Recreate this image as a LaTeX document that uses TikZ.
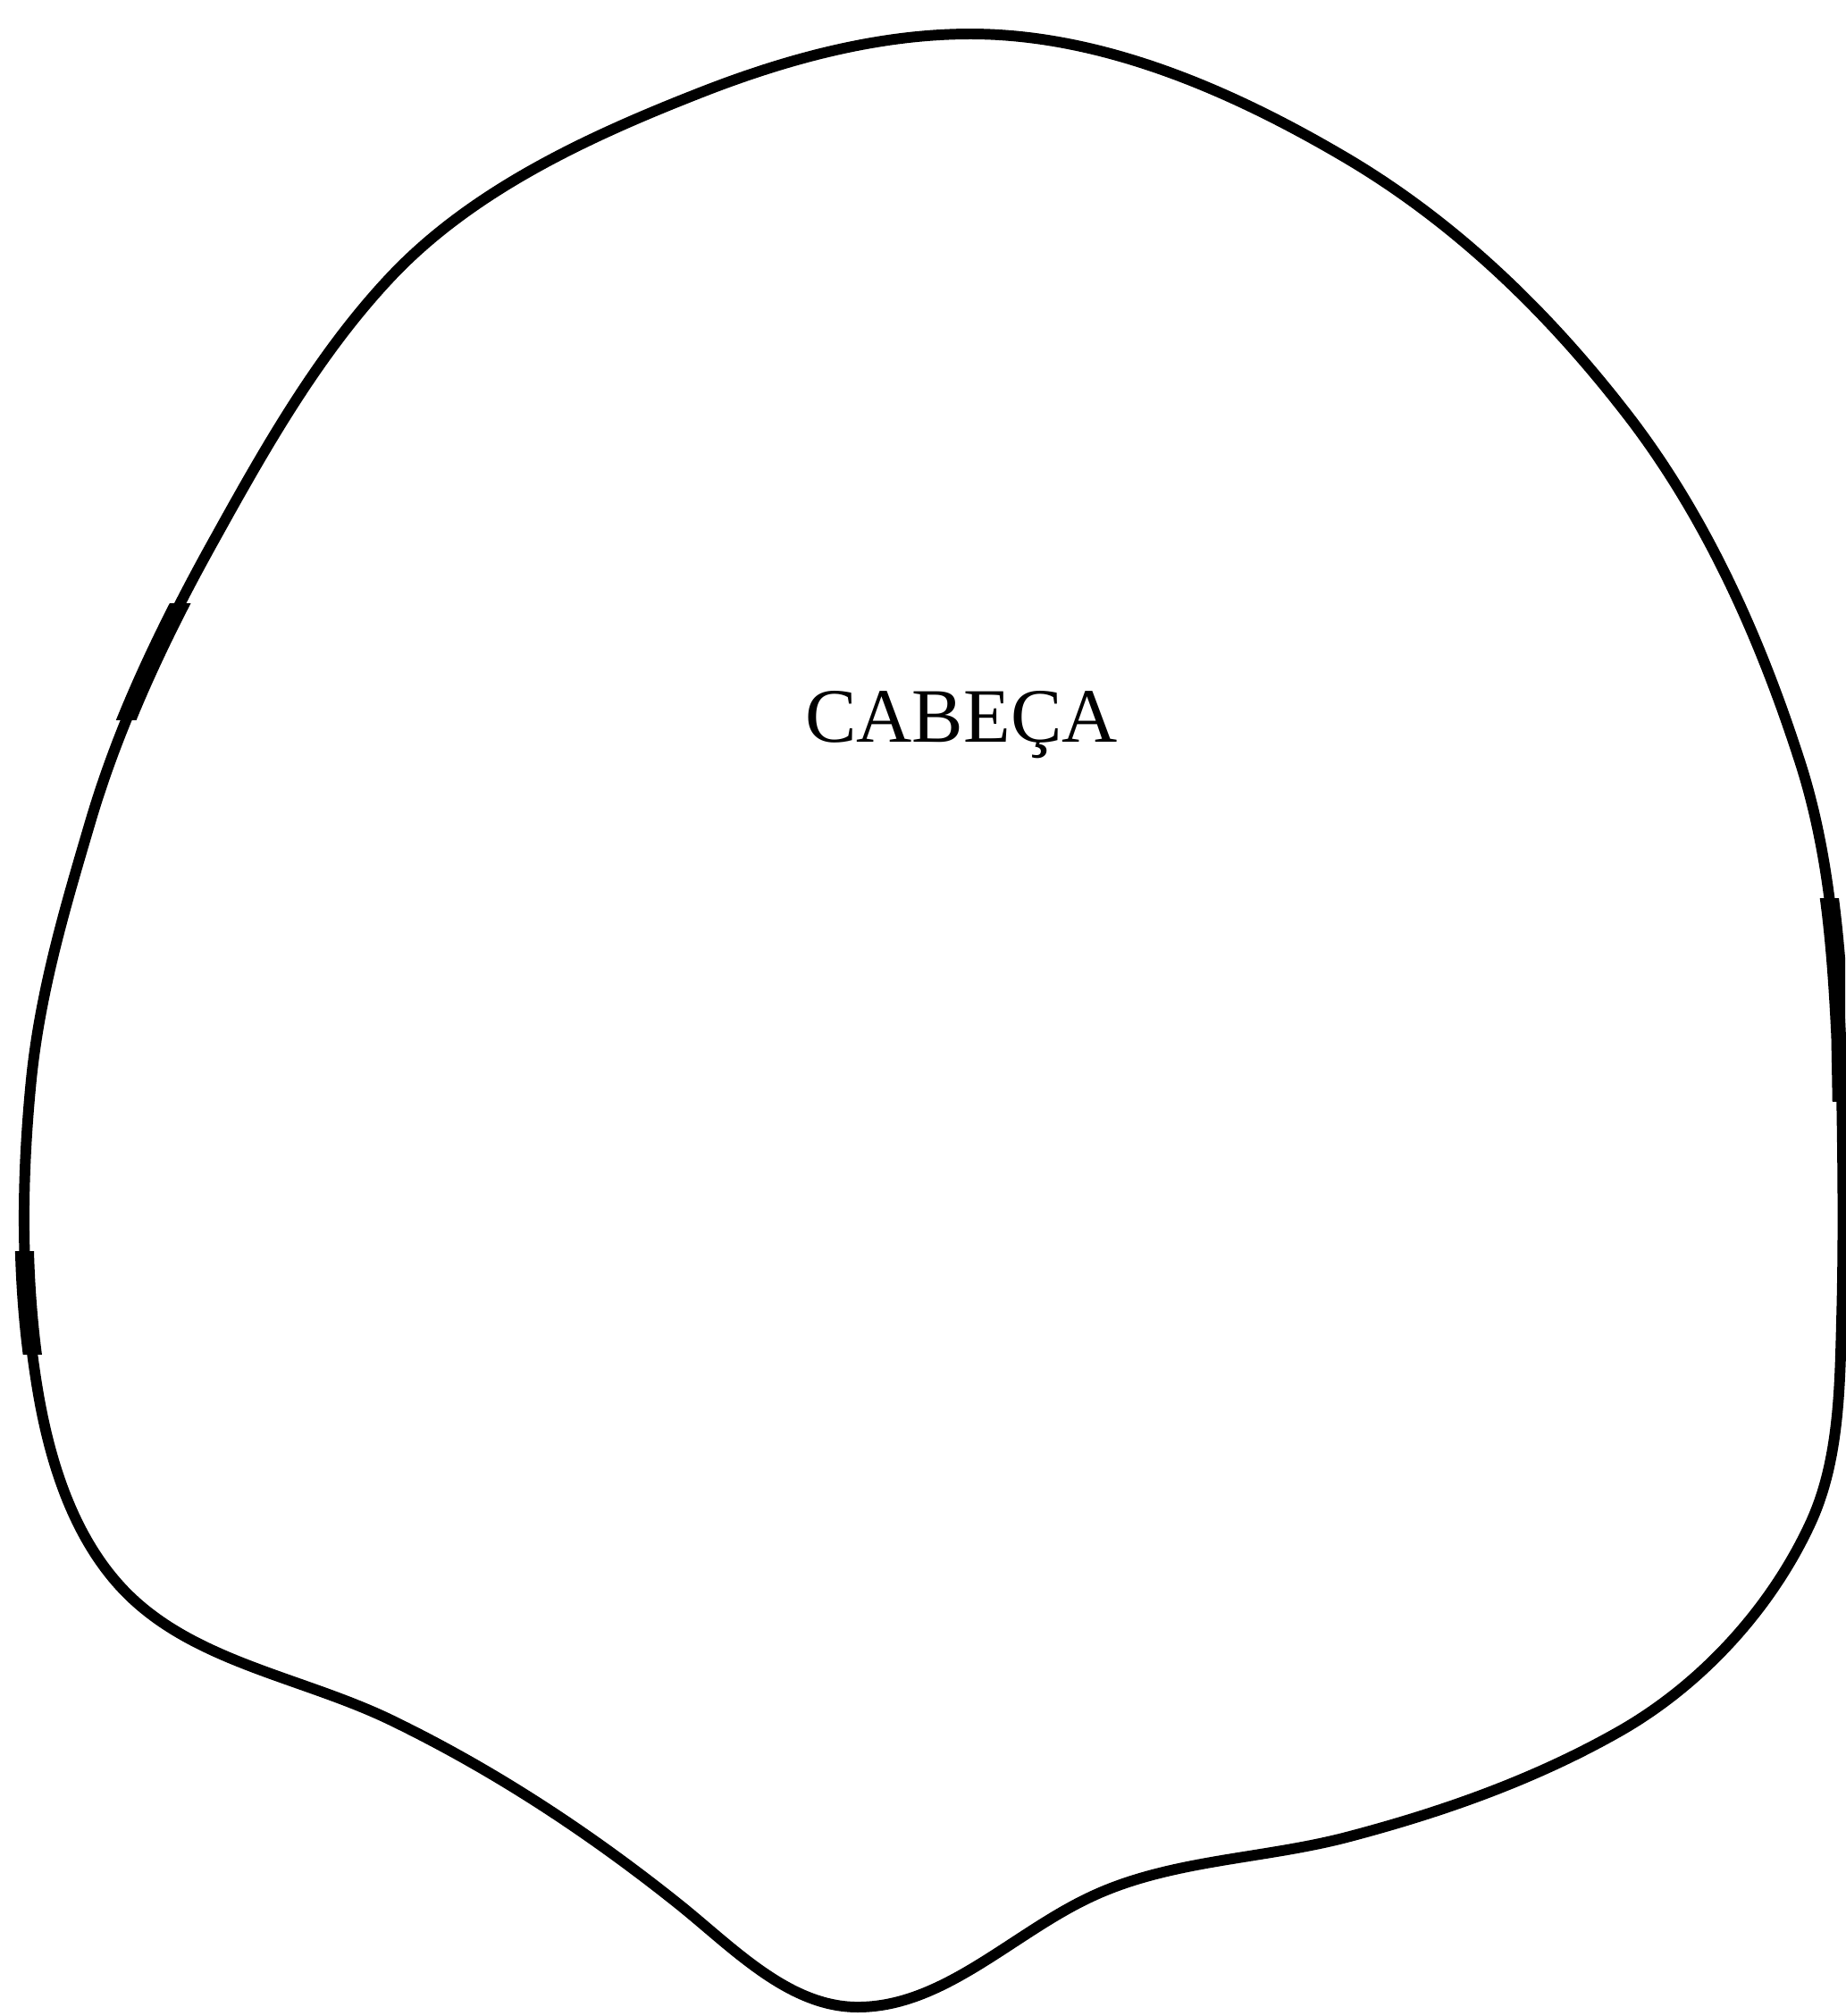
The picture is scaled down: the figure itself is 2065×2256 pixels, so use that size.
\documentclass[tikz,border=0pt]{standalone}
\usepackage{fontspec}
\setmainfont{Liberation Serif}
\usepackage{tikz}
\tikzset{
  headOutline/.style={
    draw=black, line width=3.4pt, line join=round,
  },
  headHeavy/.style={
    draw=black, line width=6pt,
  },
  headLabel/.style={
    inner sep=0pt, anchor=base, font=\fontsize{24.5}{29}\selectfont,
  },
}
\begin{document}
\begin{tikzpicture}[x=0.01cm, y=-0.01cm]

\useasboundingbox (0, 0) rectangle (2065, 2256);

% outline of the head, clockwise from the top
\draw[headOutline] (1086, 38)
  .. controls (1234, 38) and (1380, 102) .. (1507, 177)
  .. controls (1627, 248) and (1729, 346) .. (1815, 456)
  .. controls (1906, 571) and (1968, 709) .. (2013, 848)
  .. controls (2046, 948) and (2055, 1055) .. (2060, 1160)
  .. controls (2062, 1267) and (2064, 1373) .. (2061, 1480)
  .. controls (2059, 1556) and (2058, 1636) .. (2026, 1705)
  .. controls (1982, 1800) and (1905, 1884) .. (1815, 1936)
  .. controls (1719, 1991) and (1614, 2028) .. (1507, 2056)
  .. controls (1411, 2081) and (1307, 2081) .. (1218, 2124)
  .. controls (1132, 2165) and (1055, 2246) .. (960, 2246)
  .. controls (881, 2246) and (818, 2177) .. (756, 2128)
  .. controls (658, 2050) and (553, 1981) .. (440, 1926)
  .. controls (340, 1877) and (219, 1861) .. (141, 1782)
  .. controls (80, 1720) and (53, 1628) .. (40, 1542)
  .. controls (23, 1432) and (24, 1319) .. (35, 1208)
  .. controls (45, 1109) and (73, 1015) .. (101, 920)
  .. controls (134, 808) and (185, 702) .. (242, 600)
  .. controls (299, 497) and (359, 392) .. (440, 307)
  .. controls (530, 213) and (656, 154) .. (778, 106)
  .. controls (876, 67) and (981, 38) .. cycle;

% heavier strokes of the pen
\begin{scope}
  \clip (0, 675) rectangle (400, 805);
  \draw[headHeavy] (101, 920) .. controls (134, 808) and (185, 702) .. (242, 600);
\end{scope}
\begin{scope}
  \clip (1900, 1005) rectangle (2065, 1232);
  \draw[headHeavy] (2013, 848) .. controls (2046, 948) and (2055, 1055) .. (2060, 1160)
    .. controls (2062, 1267) and (2064, 1373) .. (2061, 1480);
\end{scope}
\begin{scope}
  \clip (0, 1400) rectangle (200, 1515);
  \draw[headHeavy] (40, 1542) .. controls (23, 1432) and (24, 1319) .. (35, 1208);
\end{scope}

\node[headLabel] (cabeca) at (1076, 830) {CABEÇA};

\end{tikzpicture}
\end{document}
